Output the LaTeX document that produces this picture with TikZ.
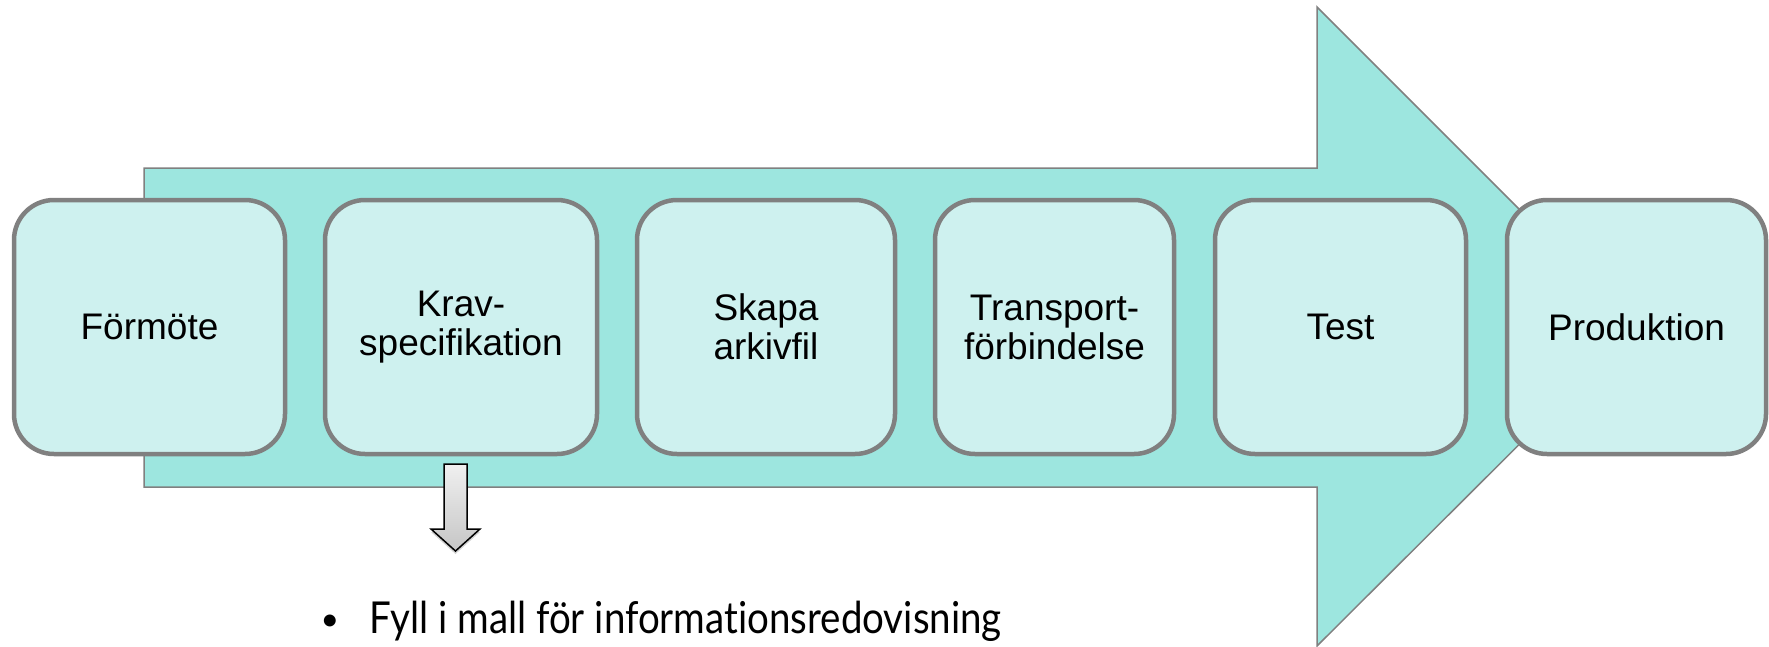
\documentclass[tikz,border=0pt]{standalone}
\usepackage{fontspec}
\setmainfont{Liberation Sans}
\newfontfamily\boxfont{Liberation Sans}
\newfontfamily\notefont[Ligatures=NoCommon]{Lato}
\usetikzlibrary{shadows}
\definecolor{arrowfill}{HTML}{9DE6DF}
\definecolor{boxfill}{HTML}{CEF1EF}
\definecolor{edgegray}{HTML}{808080}
\tikzset{
  stage/.style={draw=edgegray, line width=4.5pt, fill=boxfill, rounded corners=40pt,
    inner sep=0pt, minimum height=254pt, align=center,
    font=\boxfont\fontsize{37}{39}\selectfont},
  bigarrow/.style={draw=edgegray, line width=1.5pt, fill=arrowfill},
  downarrow/.style={draw=black, line width=1.5pt, top color=gray!12, bottom color=gray!45,
    drop shadow={opacity=0.35, shadow xshift=0pt, shadow yshift=-3pt}},
  note/.style={inner sep=0pt, font=\notefont\fontsize{44}{48}\selectfont}
}
\begin{document}
\begin{tikzpicture}[x=1pt, y=-1pt]
\useasboundingbox (0,0) rectangle (1769,646);
% big process arrow
\coordinate (a1) at (144,168);
\coordinate (a2) at (1317,168);
\coordinate (a3) at (1317,7);
\coordinate (tip) at (1637,327);
\coordinate (a5) at (1317,646);
\coordinate (a6) at (1317,487);
\coordinate (a7) at (144,487);
\draw[bigarrow] (a1) -- (a2) -- (a3) -- (tip) -- (a5) -- (a6) -- (a7) -- cycle;
% stages
\node[stage, minimum width=271pt] (formote) at (149.5,327) {Förmöte};
\node[stage, minimum width=272pt] (krav) at (461,327) {Krav-\\specifikation};
\node[stage, minimum width=258pt] (skapa) at (766,327) {Skapa\\arkivfil};
\node[stage, minimum width=239pt] (transport) at (1054.5,327) {Transport-\\förbindelse};
\node[stage, minimum width=251pt] (test) at (1340.5,327) {Test};
\node[stage, minimum width=259pt] (produktion) at (1636.5,327) {Produktion};
% small down arrow
\coordinate (s1) at (444,464);
\coordinate (s2) at (467,464);
\coordinate (s3) at (467,529);
\coordinate (s4) at (480,529);
\coordinate (s5) at (455.5,551);
\coordinate (s6) at (431,529);
\coordinate (s7) at (444,529);
\draw[downarrow] (s1) -- (s2) -- (s3) -- (s4) -- (s5) -- (s6) -- (s7) -- cycle;
% note
\node[inner sep=0pt, font=\notefont\fontsize{32}{36}\selectfont, anchor=base] (bullet) at (330,630) {•};
\node[note, anchor=base west] (notetext) at (369,633) {\scalebox{0.875}[1]{Fyll i mall för informationsredovisning}};
\end{tikzpicture}
\end{document}
